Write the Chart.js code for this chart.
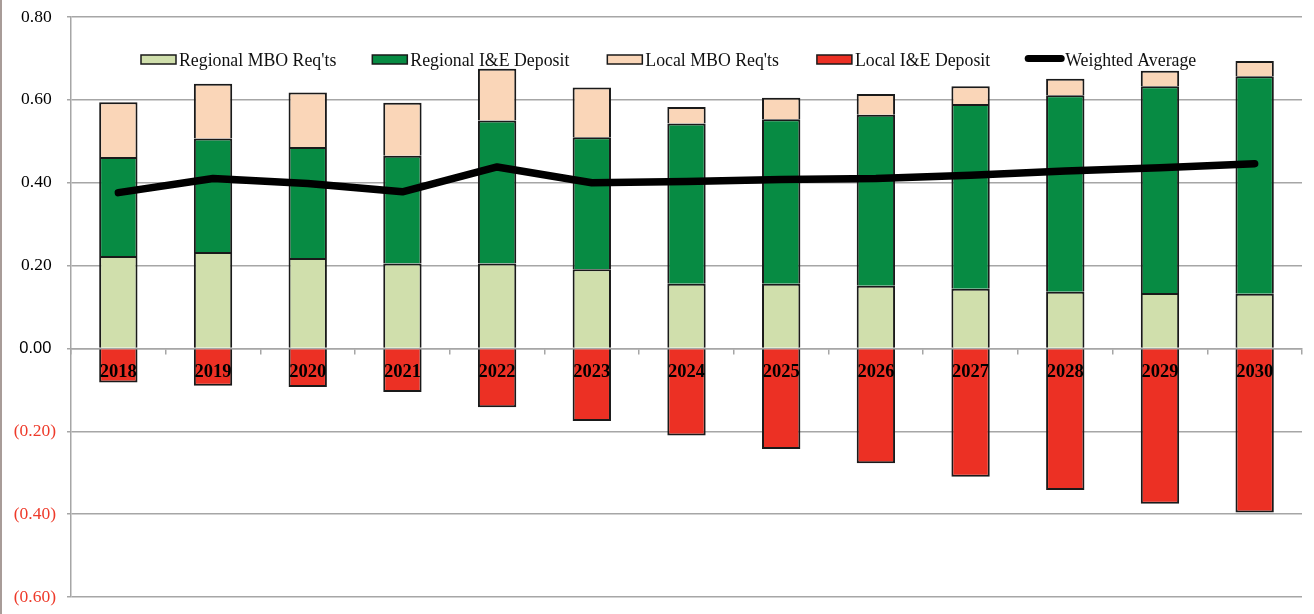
<!DOCTYPE html>
<html>
<head>
<meta charset="utf-8">
<title>MBO Requirements and I&amp;E Deposits</title>
<script src="https://cdn.jsdelivr.net/npm/chart.js@4/dist/chart.umd.min.js"></script>
<style>
  html, body { margin: 0; padding: 0; background: #fff; }
  #wrap { position: relative; width: 1314px; height: 614px; }
  #edge { position: absolute; left: 0; top: 0; width: 2px; height: 614px; background: #a89c98; }
</style>
</head>
<body>
<div id="wrap">
  <canvas id="chart" width="1314" height="614"></canvas>
  <div id="edge"></div>
</div>
<script>
const years = ["2018", "2019", "2020", "2021", "2022", "2023", "2024", "2025", "2026", "2027", "2028", "2029", "2030"];

const regionalMbo = [0.223, 0.233, 0.218, 0.205, 0.205, 0.191, 0.156, 0.156, 0.151, 0.144, 0.137, 0.134, 0.132];
const regionalDeposit = [0.239, 0.274, 0.268, 0.260, 0.345, 0.319, 0.387, 0.397, 0.413, 0.446, 0.474, 0.499, 0.525];
const localMbo = [0.132, 0.132, 0.132, 0.128, 0.125, 0.120, 0.040, 0.052, 0.050, 0.043, 0.040, 0.037, 0.037];
const localDeposit = [-0.082, -0.090, -0.093, -0.105, -0.142, -0.175, -0.210, -0.243, -0.277, -0.310, -0.342, -0.375, -0.396];
const weightedAvg = [0.376, 0.410, 0.398, 0.378, 0.438, 0.400, 0.403, 0.408, 0.410, 0.418, 0.428, 0.436, 0.446];

const GRID = "#a6a6a6";
const SERIF = "'Liberation Serif', 'Times New Roman', serif";
const SANS = "'Liberation Sans', Arial, sans-serif";

function barSet(label, data, color) {
  return {
    type: "bar",
    label,
    data,
    backgroundColor: color,
    borderColor: "#1a1a1a",
    borderWidth: 2,
    barPercentage: 0.405,
    categoryPercentage: 1,
    order: 1
  };
}

const tickVal = c => (c && c.tick ? c.tick.value : 1);

// legend drawn inside the plot area, just under the top gridline
const insideLegend = {
  id: "insideLegend",
  afterDraw(chart) {
    const ctx = chart.ctx;
    const y = 60;
    let x = 141;
    ctx.save();
    ctx.font = "17.8px " + SERIF;
    ctx.textBaseline = "middle";
    ctx.textAlign = "left";
    chart.data.datasets.forEach((ds, i) => {
      if (ds.type === "line") {
        x -= 4;
        ctx.strokeStyle = "#000";
        ctx.lineWidth = 7;
        ctx.lineCap = "round";
        ctx.beginPath();
        ctx.moveTo(x + 4, y - 1.5);
        ctx.lineTo(x + 37, y - 1.5);
        ctx.stroke();
        x += 41;
      } else {
        ctx.fillStyle = ds.backgroundColor;
        ctx.fillRect(x, y - 5, 35, 9);
        ctx.strokeStyle = "#1a1a1a";
        ctx.lineWidth = 1.5;
        ctx.strokeRect(x, y - 5, 35, 9);
        x += 38;
      }
      ctx.fillStyle = "#111";
      ctx.fillText(ds.label, x, y + 1);
      x += ctx.measureText(ds.label).width + (i === 0 ? 36 : 38);
    });
    ctx.restore();
  }
};

new Chart(document.getElementById("chart"), {
  data: {
    labels: years,
    datasets: [
      barSet("Regional MBO Req'ts", regionalMbo, "#d0dfac"),
      barSet("Regional I&E Deposit", regionalDeposit, "#078b43"),
      barSet("Local MBO Req'ts", localMbo, "#fad6b8"),
      barSet("Local I&E Deposit", localDeposit, "#ec3024"),
      {
        type: "line",
        label: "Weighted Average",
        data: weightedAvg,
        borderColor: "#000",
        borderWidth: 7.5,
        borderCapStyle: "round",
        borderJoinStyle: "round",
        pointRadius: 0,
        tension: 0,
        fill: false,
        order: 0
      }
    ]
  },
  options: {
    responsive: false,
    animation: false,
    layout: { padding: { left: 0, right: 12, top: 17, bottom: 17 } },
    plugins: {
      legend: { display: false },
      tooltip: { enabled: false }
    },
    scales: {
      x: {
        type: "category",
        stacked: true,
        position: { y: 0 },
        offset: true,
        grid: {
          offset: true,
          drawOnChartArea: false,
          drawTicks: true,
          tickLength: 5,
          color: GRID,
          lineWidth: 1.5
        },
        border: { color: GRID, width: 1.5 },
        ticks: {
          z: 1,
          padding: 8,
          color: "#000",
          font: { family: SERIF, size: 18.5, weight: "bold" },
          maxRotation: 0
        }
      },
      y: {
        stacked: true,
        min: -0.6,
        max: 0.8,
        afterFit(scale) {
          scale.width = 71;
          scale.paddingTop = 0;
          scale.paddingBottom = 0;
        },
        grid: {
          color: GRID,
          lineWidth: 1.5,
          tickLength: 4
        },
        border: { color: GRID, width: 1.5 },
        ticks: {
          stepSize: 0.2,
          padding: 11,
          color: c => (tickVal(c) < -1e-9 ? "#ee3a2a" : "#000"),
          font: c => {
            const zero = Math.abs(tickVal(c)) < 1e-9;
            return { family: zero ? SANS : SERIF, size: zero ? 16.5 : 17.5 };
          },
          callback: v => {
            const s = Math.abs(v).toFixed(2);
            return v < -1e-9 ? "(" + s + ")" : s + " ";
          }
        }
      }
    }
  },
  plugins: [insideLegend]
});
</script>
</body>
</html>
